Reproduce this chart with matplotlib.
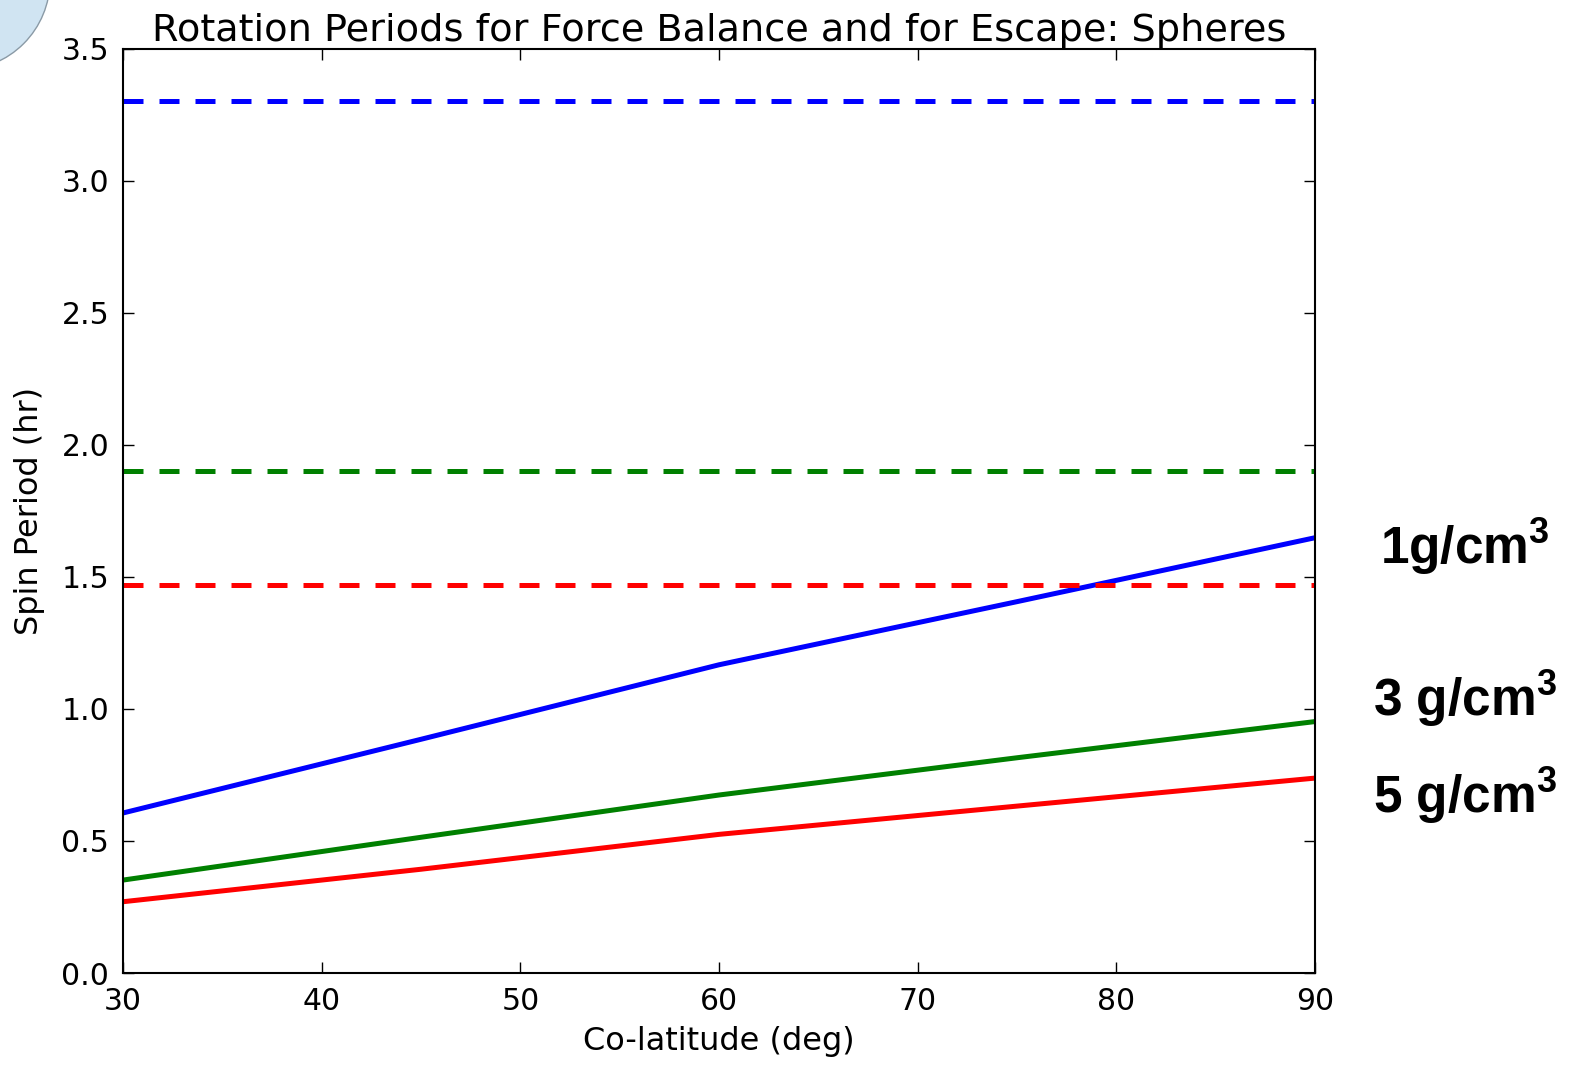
import matplotlib
matplotlib.use("Agg")
import matplotlib.pyplot as plt
from matplotlib.patches import Ellipse

plt.rcParams.update({
    "font.family": "DejaVu Sans",
    "font.size": 22,
    "xtick.direction": "in",
    "ytick.direction": "in",
    "xtick.top": True,
    "ytick.right": True,
    "mathtext.fontset": "custom",
    "mathtext.rm": "Liberation Sans:bold",
    "mathtext.default": "rm",
})

# co-latitude samples (deg) and spin periods (hr)
colat = [30, 45, 60, 75, 90]
force_1 = [0.606, 0.885, 1.167, 1.406, 1.648]
force_3 = [0.352, 0.514, 0.674, 0.815, 0.952]
force_5 = [0.270, 0.393, 0.525, 0.632, 0.738]

# escape periods (constant with co-latitude)
escape_1 = 3.30
escape_3 = 1.90
escape_5 = 1.47

labels = ["1g/cm$^3$", "3 g/cm$^3$", "5 g/cm$^3$"]

fig = plt.figure(figsize=(15.84, 10.66), dpi=100)
ax = fig.add_axes([0.0777, 0.0872, 0.7525, 0.8673])

ax.plot(colat, force_1, color="b", lw=3.6)
ax.plot(colat, force_3, color="g", lw=3.6)
ax.plot(colat, force_5, color="r", lw=3.6)

for val, c in [(escape_1, "b"), (escape_3, "g"), (escape_5, "r")]:
    ax.axhline(val, color=c, lw=3.6, ls="--", dashes=(4, 3.2))

ax.set_xlim(30, 90)
ax.set_ylim(0, 3.5)
ax.set_xticks(range(30, 91, 10))
ax.set_yticks([0.0, 0.5, 1.0, 1.5, 2.0, 2.5, 3.0, 3.5])
ax.set_yticklabels([f"{v:.1f}" for v in ax.get_yticks()])
ax.tick_params(length=8, width=1, pad=10, labelsize=21.5)
for s in ax.spines.values():
    s.set_linewidth(1.5)

ax.set_xlabel("Co-latitude (deg)", fontsize=23, labelpad=7)
ax.set_ylabel("Spin Period (hr)", fontsize=23, labelpad=12)
ax.set_title("Rotation Periods for Force Balance and for Escape: Spheres",
             fontsize=27.5, pad=4)

# density labels at right of the plot
label_y = [0.487, 0.345, 0.254]
for txt, y in zip(labels, label_y):
    fig.text(0.925, y, txt, ha="center", va="center", fontsize=37,
             fontweight="bold", family="Liberation Sans")

# decorative circle at top-left corner
fig.add_artist(Ellipse((-40 / 1584, 1 + 20 / 1066), 180 / 1584, 180 / 1066,
                       transform=fig.transFigure, fc="#d0e4f2", ec="#8a9aa6",
                       lw=1, clip_on=False))

fig.savefig("out.png", dpi=100)
